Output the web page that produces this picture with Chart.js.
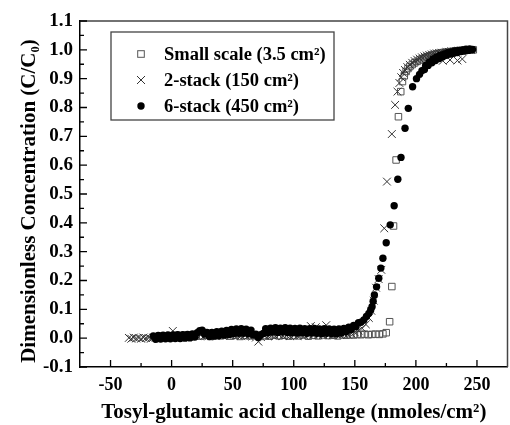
<!DOCTYPE html>
<html><head><meta charset="utf-8">
<script src="https://cdn.jsdelivr.net/npm/chart.js@4/dist/chart.umd.min.js"></script>
<style>
html,body{margin:0;padding:0;background:#fff;overflow:hidden;width:510px;height:425px}
#wrap{position:relative;width:514px;height:425px}
</style></head>
<body><div id="wrap"><canvas id="c"></canvas></div>
<script>
const FONT = '"Liberation Serif","Times New Roman",serif';
const xTicks = [-50, 0, 50, 100, 150, 200, 250];
const yTicks = [-0.1, 0.0, 0.1, 0.2, 0.3, 0.4, 0.5, 0.6, 0.7, 0.8, 0.9, 1.0, 1.1];
const seriesNames = ['Small scale (3.5 cm\u00B2)', '2-stack (150 cm\u00B2)', '6-stack (450 cm\u00B2)'];
const xTitle = 'Tosyl-glutamic acid challenge (nmoles/cm\u00B2)';
const yTitle = 'Dimensionless Concentration (C/C\u2080)';

// Small scale (3.5 cm2) — open squares  [x, C/C0]
const smallScale = [
 [0,0.006],[4,0.010],[8,0.007],[12,0.011],[16,0.006],[20,0.009],[24,0.007],[28,0.010],[32,0.006],[36,0.009],
 [40,0.008],[44,0.011],[48,0.007],[52,0.010],[56,0.006],[60,0.009],[64,0.008],[68,0.010],[72,0.006],[76,0.009],
 [80,0.007],[84,0.011],[88,0.008],[92,0.010],[96,0.007],[100,0.009],[104,0.008],[108,0.011],[112,0.007],[116,0.010],
 [120,0.008],[124,0.011],[128,0.009],[132,0.010],[136,0.008],[140,0.011],[143,0.010],[146,0.012],[149,0.011],[152,0.013],
 [155,0.012],[158,0.014],[161,0.012],[164,0.013],[167,0.014],[170,0.013],[173,0.015],[175.7,0.019],[178.5,0.057],[180.3,0.179],
 [181.7,0.389],[183.8,0.618],[185.7,0.768],[187.6,0.855],[189,0.890],[190.5,0.910],[192,0.925],[193.5,0.935],[195,0.942],[197,0.949],
 [199,0.955],[201,0.960],[203,0.965],[205,0.969],[207,0.973],[209,0.976],[211,0.979],[213,0.982],[215,0.984],[217,0.986],
 [219,0.988],[221,0.990],[223,0.991],[225,0.992],[227,0.993],[229,0.994],[231,0.995],[233,0.996],[235,0.997],[237,0.997],
 [239,0.998],[241,0.999],[243,0.999],[245,1.000],[247,1.000]
];

// 2-stack (150 cm2) — crosses
const twoStack = [
 [-35,0.001],[-33,-0.002],[-31,0.002],[-29,-0.001],[-27,0.001],[-25,-0.002],[-23,0.002],[-21,0.000],[-19,0.001],[-17,-0.002],
 [-15,0.002],[-12,0.004],[-9,0.003],[-6,0.006],[-3,0.004],[1,0.025],[3,0.005],[6,0.008],[9,0.006],[12,0.009],
 [15,0.007],[18,0.010],[21,0.008],[24,0.011],[27,0.009],[30,0.006],[33,0.010],[36,0.007],[39,0.011],[42,0.008],
 [45,0.012],[48,0.009],[51,0.013],[54,0.010],[57,0.008],[60,0.011],[63,0.009],[66,0.006],[69,0.002],[71,-0.012],
 [73,0.004],[76,0.009],[79,0.006],[82,0.010],[85,0.007],[88,0.011],[91,0.008],[94,0.010],[97,0.007],[100,0.011],
 [103,0.008],[106,0.012],[109,0.009],[112,0.014],[114,0.042],[116,0.012],[118,0.038],[120,0.010],[122,0.015],[124,0.011],
 [126.6,0.045],[129,0.012],[132,0.010],[135,0.014],[138,0.011],[141,0.015],[144,0.013],[147,0.017],[150,0.020],[153,0.026],
 [156,0.034],[159,0.048],[161.5,0.070],[163.5,0.095],[165.5,0.130],[167.4,0.175],[169.5,0.205],[171.7,0.237],[174.1,0.381],[176.3,0.543],
 [180.3,0.708],[183,0.809],[184.9,0.855],[186.5,0.885],[188,0.905],[189.5,0.920],[191,0.930],[193,0.940],[195,0.948],[197,0.955],
 [199,0.961],[201,0.966],[203,0.970],[205,0.974],[207,0.977],[209,0.980],[211,0.982],[213,0.984],[215,0.987],[217,0.988],
 [219,0.989],[221,0.990],[222,0.962],[225,0.992],[227,0.993],[228,0.965],[229,0.995],[231,0.994],[233,0.996],[234,0.963],
 [235,0.997],[237,0.998],[238,0.968],[239,0.998],[241,0.999],[243,1.000],[245,1.000]
];

// 6-stack (450 cm2) — filled circles
const sixStack = [
 [-15,0.008],[-13,-0.004],[-11,0.009],[-9,-0.003],[-7,0.010],[-5,-0.002],[-3,0.011],[-1,-0.002],[1,0.011],[3,-0.001],
 [5,0.012],[7,-0.001],[9,0.012],[11,0.000],[13,0.013],[15,0.001],[17,0.015],[19,0.004],[21,0.019],[23,0.026],
 [25,0.028],[27,0.014],[29,0.020],[31,0.006],[33,0.020],[35,0.007],[37,0.022],[39,0.009],[41,0.024],[43,0.011],
 [45,0.027],[47,0.013],[49,0.030],[51,0.016],[53,0.032],[55,0.017],[57,0.033],[59,0.017],[61,0.031],[63,0.015],
 [65,0.028],[67,0.012],[69,0.014],[71,0.002],[73,0.012],[75,0.016],[77,0.033],[79,0.019],[81,0.035],[83,0.021],
 [85,0.036],[87,0.020],[89,0.035],[91,0.021],[93,0.036],[95,0.020],[97,0.035],[99,0.019],[101,0.034],[103,0.018],
 [105,0.035],[107,0.019],[109,0.033],[111,0.017],[113,0.033],[115,0.018],[117,0.034],[119,0.017],[121,0.032],[123,0.016],
 [125,0.033],[127,0.017],[129,0.032],[131,0.016],[133,0.031],[135,0.015],[137,0.032],[139,0.018],[141,0.034],[143,0.022],
 [145,0.038],[147,0.030],[149,0.044],[151,0.040],[153,0.054],[155,0.055],[157.4,0.063],[159.5,0.075],[161.5,0.086],[163,0.098],
 [164.1,0.109],[165,0.128],[166,0.150],[167.8,0.178],[169.6,0.208],[171.3,0.243],[173,0.277],[175.7,0.331],[179,0.393],[182.2,0.459],
 [185.2,0.551],[187.8,0.627],[191.1,0.728],[193.8,0.797],[197.3,0.872],[200.5,0.900],[203,0.915],[205,0.928],[207,0.932],[208,0.946],
 [210,0.946],[211,0.958],[213,0.955],[214,0.968],[216,0.963],[217,0.975],[219,0.970],[220,0.981],[222,0.976],[223,0.986],
 [225,0.981],[226,0.990],[228,0.985],[229,0.993],[231,0.988],[232,0.996],[234,0.991],[235,0.998],[237,0.994],[238,1.000],
 [240,0.996],[241,1.002],[243,0.998],[244,1.003],[246.4,1.001]
];

const toPts = arr => arr.map(([x, y]) => ({x, y}));

const frameTicks = {
  id: 'frameTicks',
  afterDraw(chart) {
    const {ctx, chartArea: {left, right, top, bottom}, scales: {x, y}} = chart;
    ctx.save();
    ctx.strokeStyle = '#444'; ctx.lineWidth = 1.5;
    ctx.beginPath(); ctx.moveTo(left, top); ctx.lineTo(right, top); ctx.lineTo(right, bottom); ctx.stroke();
    ctx.strokeStyle = '#000'; ctx.lineWidth = 1.3;
    ctx.beginPath();
    for (let i = 0; i < xTicks.length; i++) {
      const px = x.getPixelForValue(xTicks[i]);
      ctx.moveTo(px, bottom); ctx.lineTo(px, bottom - 7);
      if (i < xTicks.length - 1) {
        const pm = x.getPixelForValue((xTicks[i] + xTicks[i + 1]) / 2);
        ctx.moveTo(pm, bottom); ctx.lineTo(pm, bottom - 4);
      }
    }
    for (let i = 0; i < yTicks.length; i++) {
      const py = y.getPixelForValue(yTicks[i]);
      ctx.moveTo(left, py); ctx.lineTo(left + 7, py);
      if (i < yTicks.length - 1) {
        const pm = y.getPixelForValue((yTicks[i] + yTicks[i + 1]) / 2);
        ctx.moveTo(left, pm); ctx.lineTo(left + 4, pm);
      }
    }
    ctx.stroke();
    ctx.restore();
  }
};

const yTitlePlugin = {
  id: 'yTitlePlugin',
  afterDraw(chart) {
    const {ctx} = chart;
    ctx.save();
    ctx.translate(30, 201);
    ctx.rotate(-Math.PI / 2);
    ctx.fillStyle = '#000';
    ctx.font = 'bold 21px ' + FONT;
    ctx.textAlign = 'center';
    ctx.textBaseline = 'middle';
    ctx.fillText(yTitle, 0, 0);
    ctx.restore();
  }
};

const boxLegend = {
  id: 'boxLegend',
  afterDraw(chart) {
    const {ctx, chartArea: {left, top}} = chart;
    const bx = left + 31, by = top + 11, bw = 223, bh = 88;
    ctx.save();
    ctx.fillStyle = '#fff';
    ctx.fillRect(bx, by, bw, bh);
    ctx.strokeStyle = '#444'; ctx.lineWidth = 1.3;
    ctx.strokeRect(bx, by, bw, bh);
    const rows = [by + 22, by + 48, by + 74];
    const mx = bx + 30;
    ctx.strokeStyle = '#555'; ctx.lineWidth = 1;
    ctx.strokeRect(mx - 3.3, rows[0] - 3.3, 6.6, 6.6);
    ctx.strokeStyle = '#333';
    ctx.beginPath();
    ctx.moveTo(mx - 4, rows[1] - 4); ctx.lineTo(mx + 4, rows[1] + 4);
    ctx.moveTo(mx + 4, rows[1] - 4); ctx.lineTo(mx - 4, rows[1] + 4);
    ctx.stroke();
    ctx.fillStyle = '#000';
    ctx.beginPath(); ctx.arc(mx, rows[2], 3.7, 0, Math.PI * 2); ctx.fill();
    ctx.font = 'bold 18.5px ' + FONT;
    ctx.textBaseline = 'middle';
    ctx.textAlign = 'left';
    for (let i = 0; i < 3; i++) ctx.fillText(seriesNames[i], bx + 53, rows[i] + 1);
    ctx.restore();
  }
};

new Chart(document.getElementById('c'), {
  type: 'scatter',
  data: {
    datasets: [
      {label: seriesNames[2], data: toPts(sixStack), pointStyle: 'circle', pointRadius: 3.7,
       backgroundColor: '#000', borderColor: '#000', borderWidth: 0},
      {label: seriesNames[1], data: toPts(twoStack), pointStyle: 'crossRot', pointRadius: 5.5,
       borderColor: '#333', backgroundColor: '#333', borderWidth: 1},
      {label: seriesNames[0], data: toPts(smallScale), pointStyle: 'rect', pointRadius: 4.6,
       borderColor: '#555', backgroundColor: 'rgba(255,255,255,0)', borderWidth: 1}
    ]
  },
  options: {
    responsive: true, maintainAspectRatio: false, animation: false,
    layout: {padding: {top: 21, right: 2, left: 0, bottom: 0}},
    plugins: {legend: {display: false}, tooltip: {enabled: false}},
    scales: {
      x: {
        type: 'linear', min: -75, max: 275,
        afterBuildTicks: s => { s.ticks = xTicks.map(v => ({value: v})); },
        afterFit: s => { s.height = 58; },
        grid: {display: false, drawTicks: false},
        border: {display: true, color: '#000', width: 1.5},
        ticks: {color: '#000', padding: 8, maxRotation: 0, autoSkip: false,
                font: {family: FONT, size: 18, weight: 'bold'}},
        title: {display: true, text: xTitle, color: '#000', padding: {top: 0, bottom: 0},
                font: {family: FONT, size: 21, weight: 'bold'}}
      },
      y: {
        type: 'linear', min: -0.1, max: 1.1,
        afterBuildTicks: s => { s.ticks = yTicks.map(v => ({value: v})); },
        afterFit: s => { s.width = 80; },
        grid: {display: false, drawTicks: false},
        border: {display: true, color: '#000', width: 1.5},
        ticks: {color: '#000', padding: 7, autoSkip: false,
                callback: v => Number(v).toFixed(1),
                font: {family: FONT, size: 19, weight: 'bold'}},
        title: {display: false}
      }
    }
  },
  plugins: [frameTicks, yTitlePlugin, boxLegend]
});
</script>
</body></html>
